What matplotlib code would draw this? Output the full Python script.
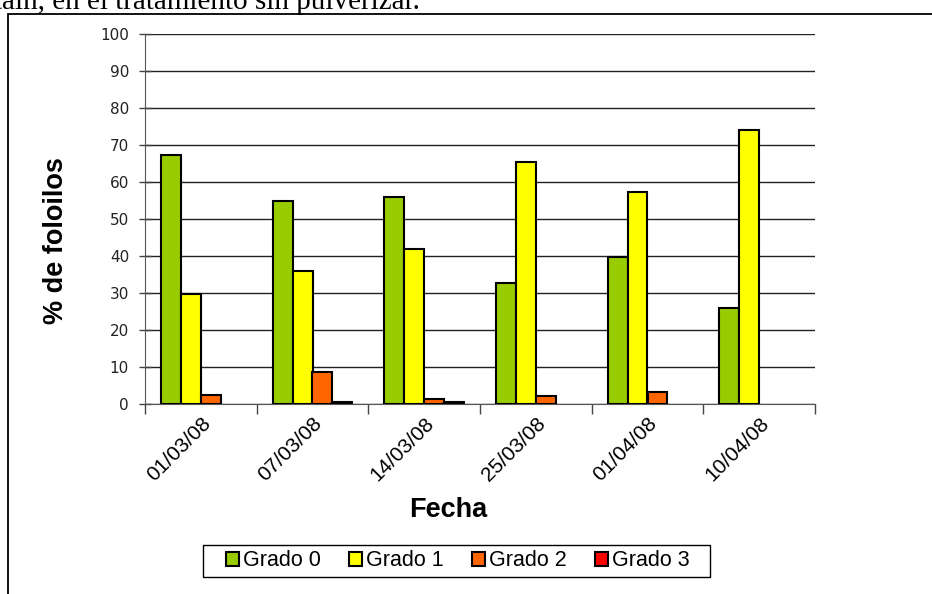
import matplotlib
matplotlib.use("Agg")
import matplotlib.pyplot as plt
import matplotlib.patches as mpatches
import numpy as np

fechas = ["01/03/08", "07/03/08", "14/03/08", "25/03/08", "01/04/08", "10/04/08"]
grado0 = [67.3, 54.8, 55.9, 32.7, 39.6, 25.9]
grado1 = [29.7, 36.0, 41.9, 65.3, 57.2, 74.0]
grado2 = [2.4, 8.7, 1.4, 2.1, 3.2, 0.0]
grado3 = [0.0, 0.6, 0.6, 0.0, 0.0, 0.0]
series = [("Grado 0", grado0, "#99CC00"),
          ("Grado 1", grado1, "#FFFF00"),
          ("Grado 2", grado2, "#FF6600"),
          ("Grado 3", grado3, "#FF0000")]
yticks = list(range(0, 101, 10))

plt.rcParams['font.family'] = ['Liberation Sans', 'DejaVu Sans']

W, H = 932, 594
fig = plt.figure(figsize=(W / 100, H / 100), dpi=100)

# outer border of the chart object
fig.add_artist(mpatches.Rectangle((8 / W, -0.01), 1.0, 1 - 14 / H + 0.01,
                                  transform=fig.transFigure, fill=False,
                                  edgecolor="black", linewidth=1.3))
# cut-off caption text above
fig.text(-6 / W, 1 - 9 / H, "tain, en el tratamiento sin pulverizar.",
         fontsize=21, family=['Liberation Serif'], va='baseline', ha='left')

ax = fig.add_axes([145 / W, 1 - 404 / H, (815 - 145) / W, (404 - 34) / H])

x = np.arange(len(fechas))
bw = 0.179
for i, (name, vals, col) in enumerate(series):
    lws = [1.5 if v > 0 else 0 for v in vals]
    ax.bar(x + (i - 1.5) * bw, vals, width=bw, color=col, edgecolor="black",
           linewidth=lws, label=name, zorder=3)

ax.set_xlim(-0.5, len(fechas) - 0.5)
ax.set_ylim(0, 100)
ax.set_yticks(yticks)
ax.set_yticklabels([str(v) for v in yticks], fontsize=11,
                   family=['DejaVu Sans'], color="#222222")
ax.yaxis.grid(True, color="#222222", linewidth=1.0, zorder=0)
ax.set_axisbelow(True)

ax.set_xticks(np.arange(-0.5, len(fechas)))
ax.set_xticklabels([])
ax.set_xticks(x, minor=True)
ax.set_xticklabels(fechas, minor=True, rotation=45, ha='right',
                   rotation_mode='anchor', fontsize=15)
ax.tick_params(axis='x', which='minor', length=0, pad=7)
ax.tick_params(axis='x', which='major', length=7, width=1.0, color="#444444")
ax.tick_params(axis='y', length=9, direction='inout', width=1.0,
               color="#444444", pad=7)

for s in ['top', 'right']:
    ax.spines[s].set_visible(False)
ax.spines['left'].set_color("#555555")
ax.spines['bottom'].set_color("#555555")

ax.set_xlabel("Fecha", fontsize=19.5, fontweight='bold')
ax.xaxis.set_label_coords(0.453, -0.252)
ax.set_ylabel("% de foloilos", fontsize=19.5, fontweight='bold')
ax.yaxis.set_label_coords(-0.113, 0.443)

# legend frame drawn separately (wide horizontal padding, tight vertical)
fig.add_artist(mpatches.Rectangle((203 / W, 1 - 577 / H), (710 - 203) / W,
                                  (577 - 545) / H, transform=fig.transFigure,
                                  fill=True, facecolor="white",
                                  edgecolor="black", linewidth=1.0, zorder=4))
leg = fig.legend(loc='center', bbox_to_anchor=(458 / W, 1 - 561 / H), ncol=4,
                 fontsize=15.5, frameon=False,
                 handlelength=0.6, handleheight=0.6, handletextpad=0.2,
                 columnspacing=1.3, borderpad=0.1, borderaxespad=0)
leg.set_zorder(5)
for hnd in leg.legend_handles:
    hnd.set_linewidth(1.5)

fig.savefig("out.png", dpi=100)
